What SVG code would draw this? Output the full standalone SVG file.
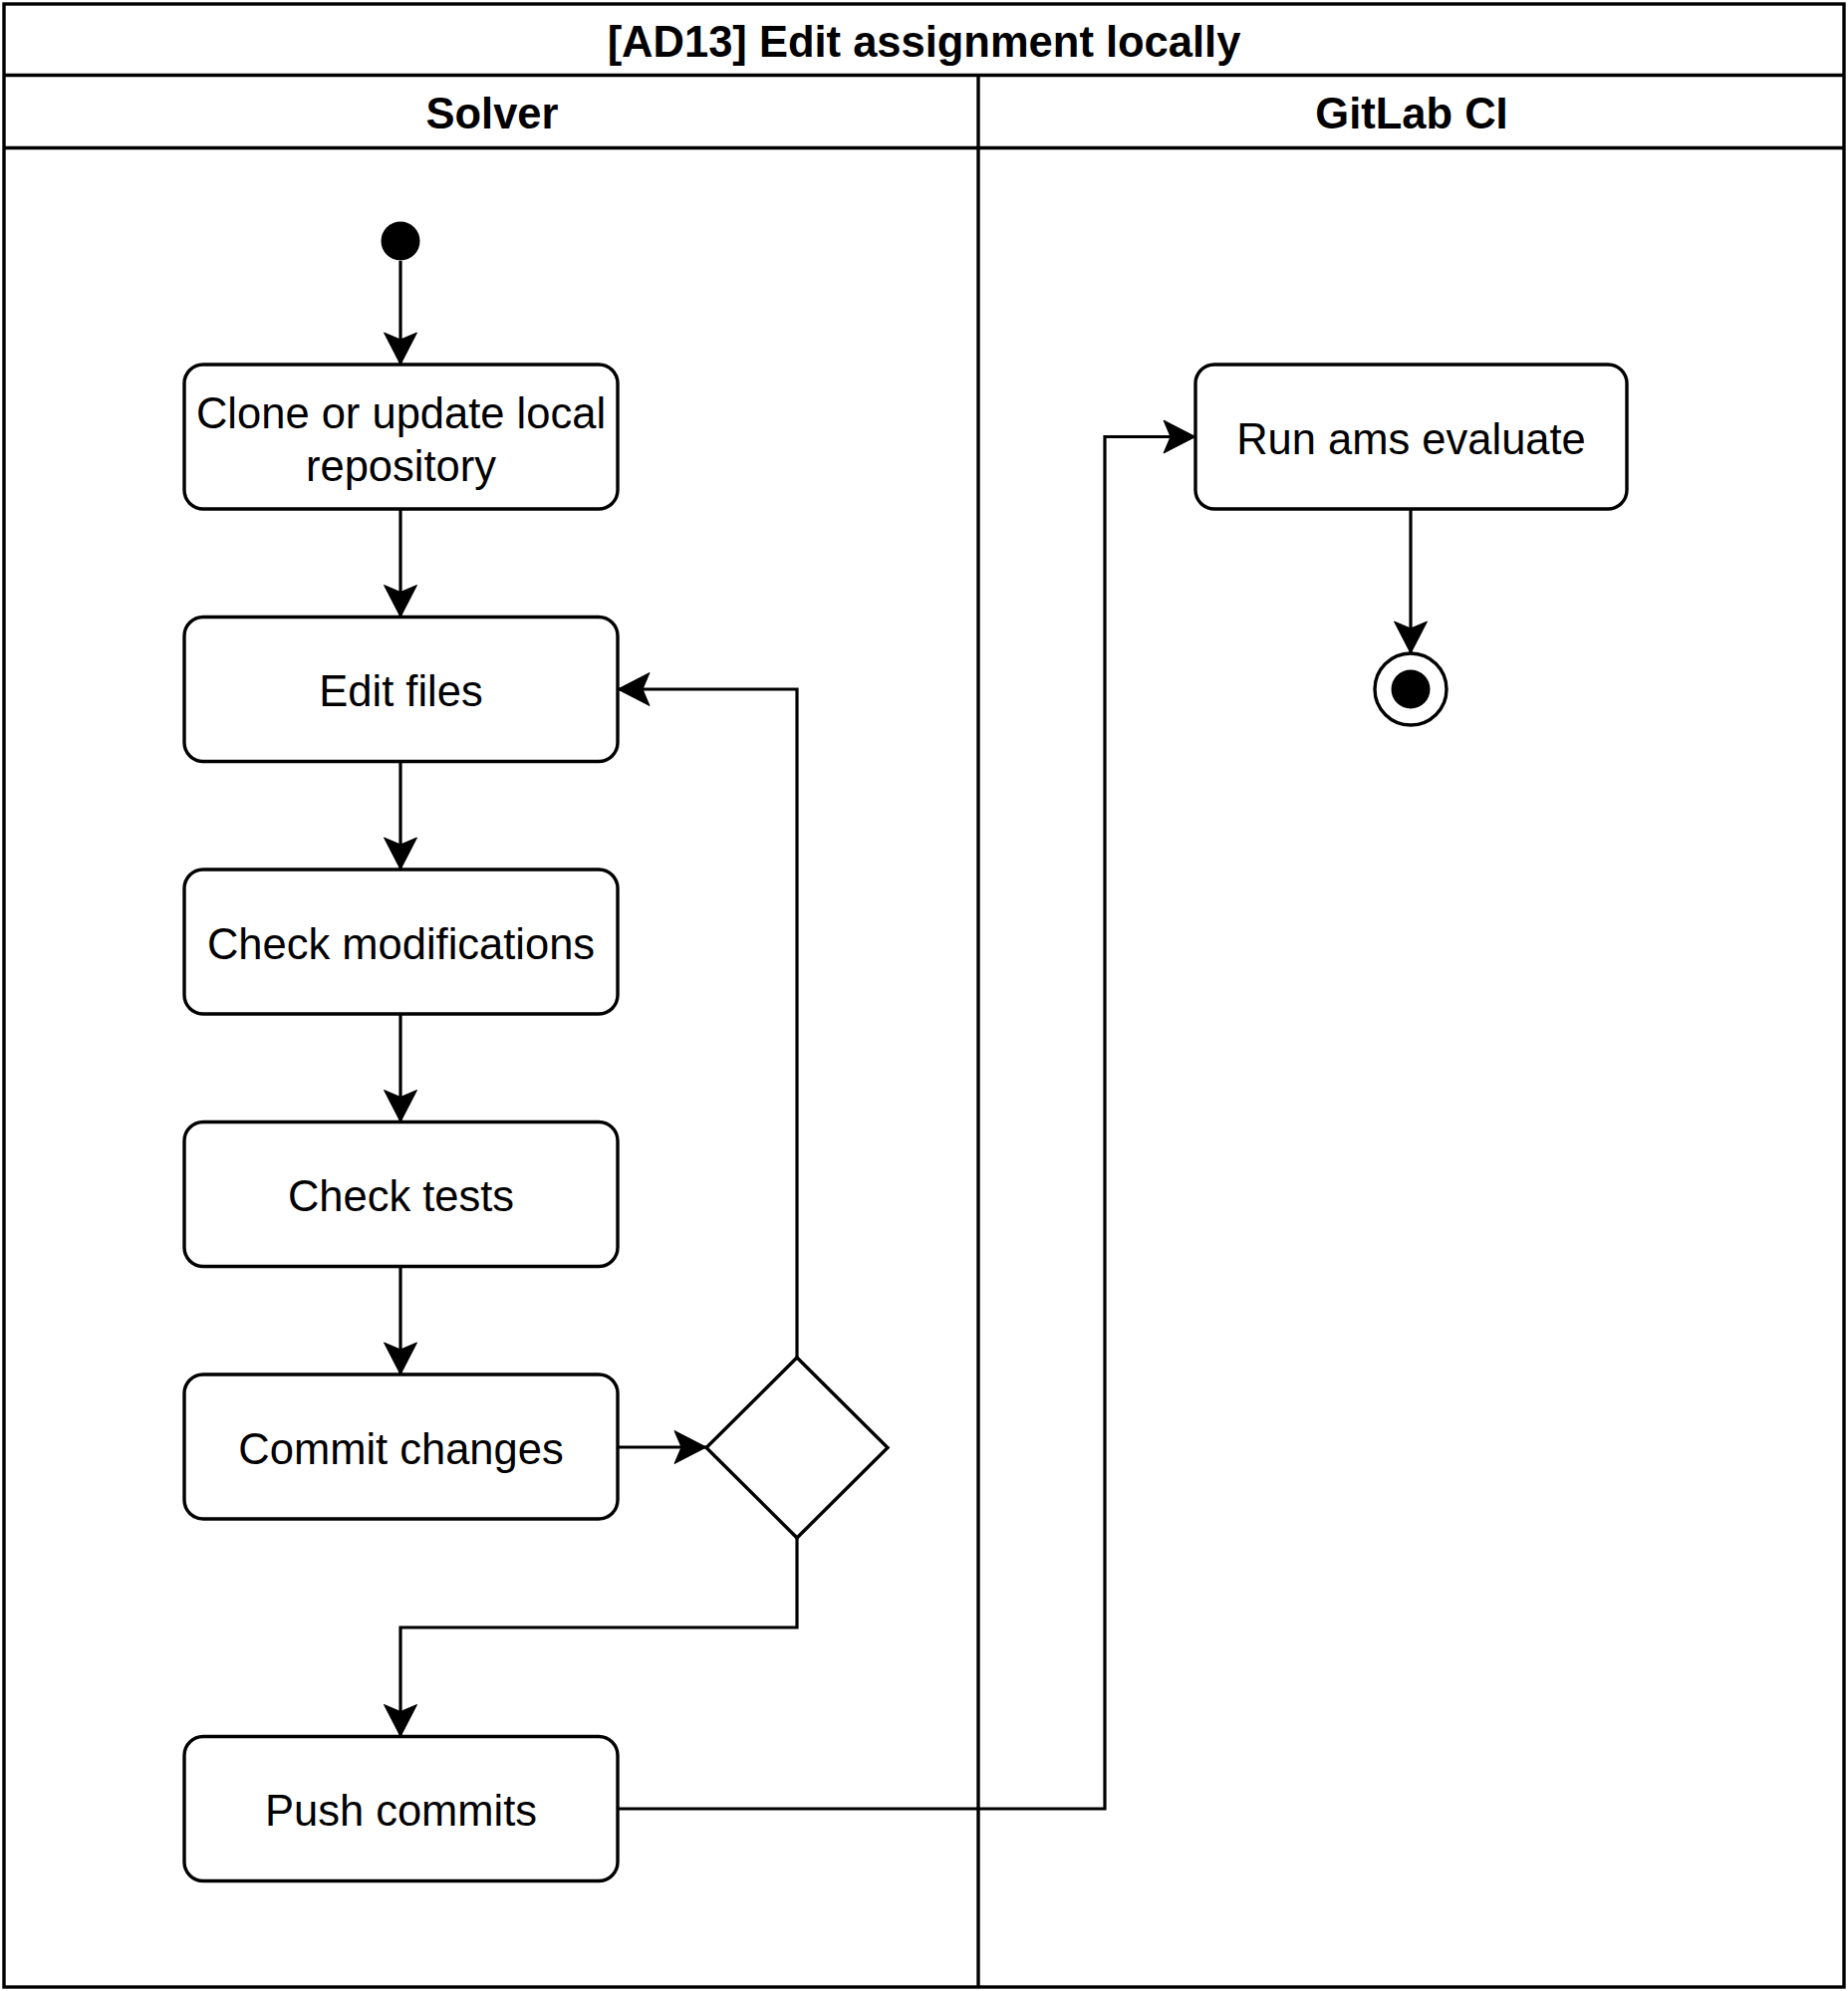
<svg xmlns="http://www.w3.org/2000/svg" width="1855" height="1999" viewBox="0 0 1855 1999">
<style>
.frame{fill:#fff;stroke:#000;stroke-width:3.4}
.line{fill:none;stroke:#000;stroke-width:3.4}
.node{fill:#fff;stroke:#000;stroke-width:3.4}
.edge{fill:none;stroke:#000;stroke-width:3.2;marker-end:url(#arrow)}
.t{font-family:"Liberation Sans",Arial,Helvetica,sans-serif;font-size:43.5px;text-anchor:middle;fill:#000}
.b{font-weight:bold}
</style>
<defs>
<marker id="arrow" markerUnits="userSpaceOnUse" viewBox="-34 -18 36 36" refX="0" refY="0" markerWidth="36" markerHeight="36" orient="auto">
<path d="M0,0 L-32,-16.5 L-25,0 L-32,16.5 Z" fill="#000" stroke="#000" stroke-width="1" stroke-linejoin="miter"/>
</marker>
</defs>
<rect width="1855" height="1999" fill="#fff"/>
<g id="pool">
<rect class="frame" x="4" y="4" width="1847" height="1991"/>
<line class="line" x1="4" y1="75.5" x2="1851" y2="75.5"/>
<line class="line" x1="4" y1="148.5" x2="1851" y2="148.5"/>
<line class="line" x1="982" y1="75.5" x2="982" y2="1995"/>
<text class="t b" x="927.5" y="57">[AD13] Edit assignment locally</text>
</g>
<g id="lane-solver">
<text class="t b" x="494" y="129">Solver</text>
</g>
<g id="lane-gitlab">
<text class="t b" x="1417" y="129">GitLab CI</text>
</g>
<g id="connectors">
<path class="edge" d="M402,262 L402,366"/>
<path class="edge" d="M402,511 L402,619.5"/>
<path class="edge" d="M402,764.5 L402,873"/>
<path class="edge" d="M402,1018 L402,1126.5"/>
<path class="edge" d="M402,1271.5 L402,1380"/>
<path class="edge" d="M620,1453 L709,1453"/>
<path class="edge" d="M800,1363 L800,692 L620,692"/>
<path class="edge" d="M800,1544 L800,1634 L402,1634 L402,1743.5"/>
<path class="edge" d="M620,1816 L1109,1816 L1109,438.5 L1200,438.5"/>
<path class="edge" d="M1416,511 L1416,656"/>
</g>
<g id="start">
<circle cx="402" cy="242" r="19.5" fill="#000"/>
</g>
<g id="clone">
<rect class="node" x="185" y="366" width="435" height="145" rx="19" ry="19"/>
<text class="t" x="402.5" y="430">Clone or update local</text>
<text class="t" x="402.5" y="482.5">repository</text>
</g>
<g id="edit">
<rect class="node" x="185" y="619.5" width="435" height="145" rx="19" ry="19"/>
<text class="t" x="402.5" y="709">Edit files</text>
</g>
<g id="checkmod">
<rect class="node" x="185" y="873" width="435" height="145" rx="19" ry="19"/>
<text class="t" x="402.5" y="962.5">Check modifications</text>
</g>
<g id="checktests">
<rect class="node" x="185" y="1126.5" width="435" height="145" rx="19" ry="19"/>
<text class="t" x="402.5" y="1216">Check tests</text>
</g>
<g id="commit">
<rect class="node" x="185" y="1380" width="435" height="145" rx="19" ry="19"/>
<text class="t" x="402.5" y="1470">Commit changes</text>
</g>
<g id="decision">
<polygon class="node" points="800,1363 891,1453.5 800,1544 709,1453.5"/>
</g>
<g id="push">
<rect class="node" x="185" y="1743.5" width="435" height="145" rx="19" ry="19"/>
<text class="t" x="402.5" y="1833">Push commits</text>
</g>
<g id="runams">
<rect class="node" x="1200" y="366" width="433" height="145" rx="19" ry="19"/>
<text class="t" x="1416.5" y="455.5">Run ams evaluate</text>
</g>
<g id="end">
<circle class="node" cx="1416" cy="692" r="36"/>
<circle cx="1416" cy="692" r="19.5" fill="#000"/>
</g>
</svg>
